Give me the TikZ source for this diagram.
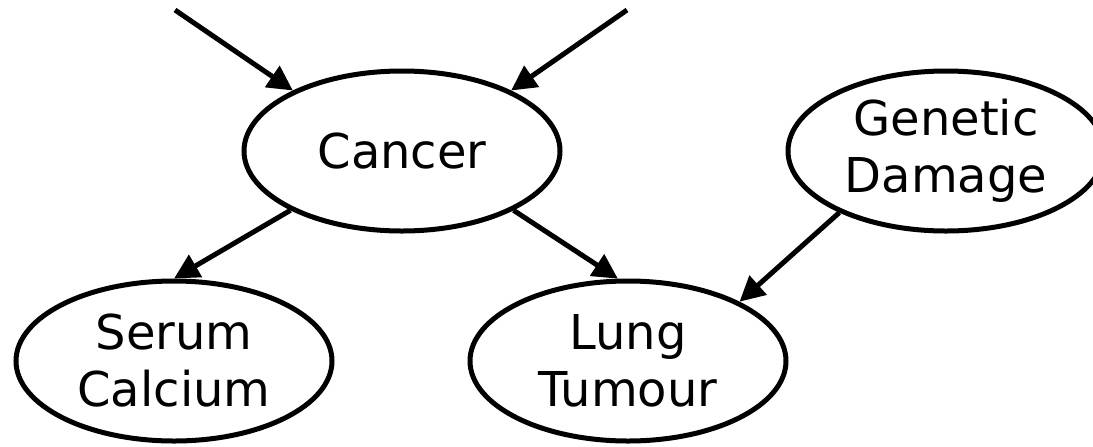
\documentclass[tikz,border=0pt]{standalone}
\usepackage{fontspec}
\setmainfont{DejaVu Sans}
\usepackage{tikz}
\usetikzlibrary{shapes.geometric,arrows.meta}

\begin{document}
\begin{tikzpicture}[x=0.5pt, y=-0.5pt, >={Triangle[length=12.5pt,width=12.5pt]},
                    every node/.style={draw, ellipse, line width=2.5pt, align=center,
                                       minimum width=158pt, minimum height=80pt, inner sep=0pt,
                                       font=\fontsize{24}{28.5}\selectfont},
                    every path/.style={line width=2.5pt}]
\useasboundingbox (0,0) rectangle (1093,446);
\node (cancer) at (402,151) {Cancer};
\node (genetic) at (946,151) {Genetic\\Damage};
\node (serum) at (174,361) {Serum\\Calcium};
\node (lung) at (628,361) {Lung\\Tumour};
\coordinate (srcL) at (175,10);
\coordinate (srcR) at (627,10);
\draw[->] (srcL) -- (cancer.151);
\draw[->] (srcR) -- (cancer.29);
\draw[->] (cancer.208) -- (serum.north);
\draw[->] (cancer.332) -- (lung.97);
\draw[->] (genetic.210) -- (lung.28);
\end{tikzpicture}
\end{document}
